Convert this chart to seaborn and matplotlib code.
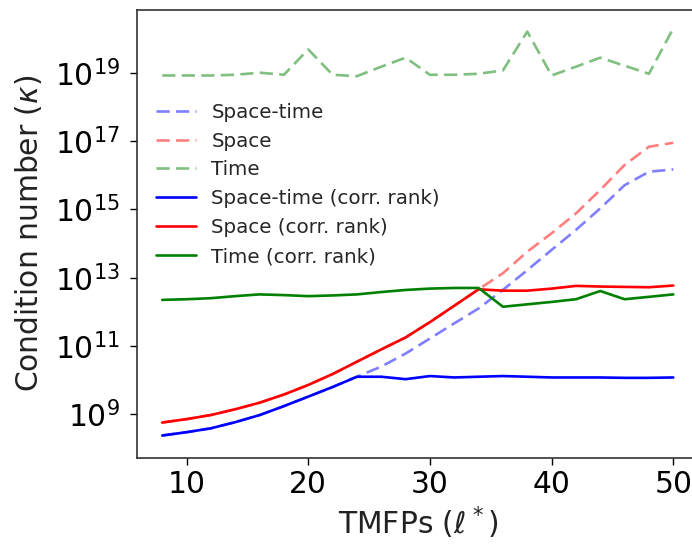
import numpy as np
import matplotlib
matplotlib.use("Agg")
import matplotlib.pyplot as plt
import matplotlib.ticker as mticker
import seaborn as sns

sns.set_style("ticks")
plt.rcParams['font.family'] = ['DejaVu Sans']

tmfps = [8, 10, 12, 14, 16, 18, 20, 22, 24, 26, 28, 30, 32, 34, 36, 38, 40, 42, 44, 46, 48, 50]

space_time = [2.4e8, 3.0e8, 3.9e8, 5.9e8, 9.5e8, 1.74e9, 3.3e9, 6.3e9, 1.26e10, 2.5e10, 6.0e10,
              1.66e11, 4.6e11, 1.26e12, 4.4e12, 1.66e13, 6.5e13, 2.5e14, 1.07e15, 5.1e15, 1.26e16, 1.48e16]
space = [5.75e8, 7.24e8, 9.55e8, 1.41e9, 2.19e9, 3.8e9, 7.24e9, 1.51e10, 3.47e10, 7.94e10, 1.78e11,
         5.0e11, 1.51e12, 4.57e12, 1.35e13, 5.75e13, 2.0e14, 7.6e14, 3.7e15, 2.0e16, 6.8e16, 8.9e16]
time = [8.3e18, 8.3e18, 8.3e18, 8.7e18, 1.0e19, 8.7e18, 4.8e19, 8.7e18, 7.9e18, 1.5e19, 2.75e19,
        8.7e18, 8.7e18, 9.3e18, 1.17e19, 1.6e20, 8.3e18, 1.5e19, 2.75e19, 1.6e19, 9.3e18, 2.0e20]

space_time_cr = [2.4e8, 3.0e8, 3.9e8, 5.9e8, 9.5e8, 1.74e9, 3.3e9, 6.3e9, 1.26e10, 1.26e10, 1.07e10,
                 1.32e10, 1.2e10, 1.26e10, 1.32e10, 1.26e10, 1.2e10, 1.2e10, 1.2e10, 1.17e10, 1.17e10, 1.2e10]
space_cr = [5.75e8, 7.24e8, 9.55e8, 1.41e9, 2.19e9, 3.8e9, 7.24e9, 1.51e10, 3.47e10, 7.94e10, 1.78e11,
            5.0e11, 1.51e12, 4.57e12, 4.17e12, 4.17e12, 4.79e12, 5.75e12, 5.5e12, 5.37e12, 5.25e12, 5.89e12]
time_cr = [2.24e12, 2.34e12, 2.51e12, 2.88e12, 3.24e12, 3.09e12, 2.88e12, 3.02e12, 3.24e12, 3.8e12, 4.37e12,
           4.79e12, 5.0e12, 5.0e12, 1.41e12, 1.66e12, 1.95e12, 2.34e12, 4.07e12, 2.34e12, 2.75e12, 3.24e12]

labels = ["Space-time", "Space", "Time",
          "Space-time (corr. rank)", "Space (corr. rank)", "Time (corr. rank)"]

fig = plt.figure(figsize=(6.92, 5.44), dpi=100)
ax = fig.add_axes([0.1975, 0.1586, 0.8124, 0.823])

lw = 1.9
dash = (0, (5.0, 2.4))
sns.lineplot(x=tmfps, y=space_time, ax=ax, color="blue", alpha=0.5, lw=lw, linestyle=dash, label=labels[0])
sns.lineplot(x=tmfps, y=space, ax=ax, color="red", alpha=0.5, lw=lw, linestyle=dash, label=labels[1])
sns.lineplot(x=tmfps, y=time, ax=ax, color="green", alpha=0.5, lw=lw, linestyle=dash, label=labels[2])
sns.lineplot(x=tmfps, y=space_time_cr, ax=ax, color="blue", lw=lw, label=labels[3])
sns.lineplot(x=tmfps, y=space_cr, ax=ax, color="red", lw=lw, label=labels[4])
sns.lineplot(x=tmfps, y=time_cr, ax=ax, color="green", lw=lw, label=labels[5])

ax.set_yscale("log")
ax.set_xlim(5.9, 52.1)
ax.set_ylim(10**7.73, 10**20.835)
ax.yaxis.set_major_locator(mticker.FixedLocator([1e9, 1e11, 1e13, 1e15, 1e17, 1e19]))
ax.yaxis.set_minor_locator(mticker.NullLocator())
ax.set_xticks([10, 20, 30, 40, 50])

fs = 21.4
ax.tick_params(axis="both", labelsize=fs, length=5.0, width=1.0, colors="black", direction="out")
ax.tick_params(axis="y", pad=7.0)
ax.set_xlabel(r"TMFPs ($\ell^*$)", fontsize=fs, color="#222222")
ax.set_ylabel(r"Condition number ($\kappa$)", fontsize=fs, color="#222222", labelpad=7.5)
for s in ax.spines.values():
    s.set_color("#333333")
    s.set_linewidth(1.2)
    s.set_visible(True)

leg = ax.legend(loc="upper left", bbox_to_anchor=(0.020, 0.811), borderaxespad=0,
                frameon=False, fontsize=14.3, handlelength=2.0)

fig.savefig("out.png", dpi=100)
